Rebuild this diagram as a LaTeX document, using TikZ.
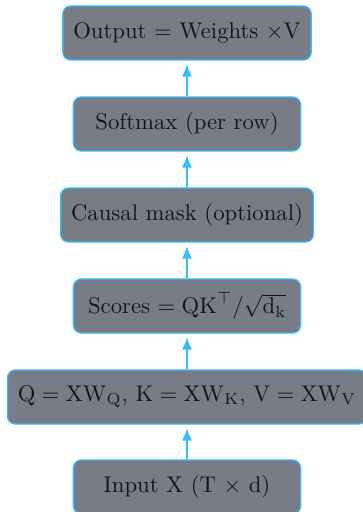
\documentclass[tikz,border=0pt]{standalone}
\usetikzlibrary{arrows.meta}
\definecolor{boxfill}{HTML}{787C86}
\definecolor{boxline}{HTML}{38BDF8}
\definecolor{arrowcol}{HTML}{38BDF8}
\definecolor{txt}{HTML}{151515}
\begin{document}
\begin{tikzpicture}[x=0.44pt,y=-0.44pt,
  stagebox/.style={draw=boxline, line width=0.6pt, fill=boxfill, rounded corners=3.5pt,
    minimum width=100pt, minimum height=23.8pt, inner xsep=4.6pt, text=txt, font=\normalsize},
  flow/.style={draw=arrowcol, line width=0.9pt, -{Latex[length=5.6pt,width=4.5pt]}, shorten >=1.4pt}]
  \useasboundingbox (0,0) rectangle (362,512);
  % pipeline stages, bottom to top
  \node[stagebox] (inp) at (187,487) {Input X (T $\times$ d)};
  \node[stagebox] (qkv) at (187,397) {$\mathrm{Q} = \mathrm{XW}_{\mathrm{Q}}$, $\mathrm{K} = \mathrm{XW}_{\mathrm{K}}$, $\mathrm{V} = \mathrm{XW}_{\mathrm{V}}$};
  \node[stagebox] (scores) at (187,306) {Scores $= \mathrm{QK}^{\top}/\sqrt{\mathrm{d}_{\mathrm{k}}}$};
  \node[stagebox] (mask) at (187,215) {Causal mask (optional)};
  \node[stagebox] (soft) at (187,124) {Softmax (per row)};
  \node[stagebox] (out) at (187,33) {Output $=$ Weights $\times$V};
  % connectors
  \draw[flow] (inp) -- (qkv);
  \draw[flow] (qkv) -- (scores);
  \draw[flow] (scores) -- (mask);
  \draw[flow] (mask) -- (soft);
  \draw[flow] (soft) -- (out);
\end{tikzpicture}
\end{document}
